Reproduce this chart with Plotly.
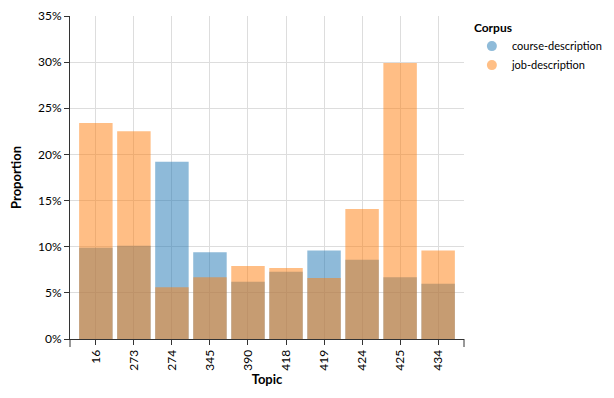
import plotly.graph_objects as go

topics = ["16", "273", "274", "345", "390", "418", "419", "424", "425", "434"]
course_description = [0.099, 0.101, 0.192, 0.094, 0.062, 0.073, 0.096, 0.086, 0.067, 0.060]
job_description = [0.234, 0.225, 0.056, 0.067, 0.079, 0.077, 0.066, 0.141, 0.299, 0.096]

BLUE = "#1f77b4"
ORANGE = "#ff7f0e"
FONT = "Lato"
AX = "#333"

fig = go.Figure()
fig.add_trace(go.Bar(x=topics, y=course_description, name="course-description",
                     marker=dict(color=BLUE, line=dict(width=0)), opacity=0.5, showlegend=False))
fig.add_trace(go.Bar(x=topics, y=job_description, name="job-description",
                     marker=dict(color=ORANGE, line=dict(width=0)), opacity=0.5, showlegend=False))
# legend entries with circle symbols
fig.add_trace(go.Scatter(x=[None], y=[None], mode="markers", name="course-description",
                         marker=dict(color=BLUE, opacity=0.5, size=10, symbol="circle")))
fig.add_trace(go.Scatter(x=[None], y=[None], mode="markers", name="job-description",
                         marker=dict(color=ORANGE, opacity=0.5, size=10, symbol="circle")))

# small end ticks of the x-axis domain
for xp in (0, 1):
    fig.add_shape(type="line", xref="paper", yref="paper", x0=xp, x1=xp, y0=0, y1=-8 / 323,
                  line=dict(color=AX, width=1))

# the page body has an 8px default margin, so the figure is sized to fit the window
fig.update_layout(
    width=606, height=390,
    margin=dict(l=62, r=150, t=8, b=59, autoexpand=False),
    barmode="overlay", bargap=0.12,
    plot_bgcolor="white", paper_bgcolor="white",
    font=dict(family=FONT, size=12, color="#000"),
    legend=dict(x=1.02, y=1.0, xanchor="left", yanchor="top",
                title=dict(text="<b>Corpus</b>", font=dict(size=12, family=FONT)),
                font=dict(size=11, family=FONT), itemwidth=30, tracegroupgap=0,
                bgcolor="rgba(0,0,0,0)"),
    xaxis=dict(type="category", range=[-0.68, 9.68],
               title=dict(text="<b>Topic</b>", font=dict(size=13), standoff=4),
               tickangle=-90, ticks="outside", ticklen=5, tickcolor=AX,
               showline=True, linecolor=AX, linewidth=1,
               showgrid=True, gridcolor="#ddd", gridwidth=1, zeroline=False),
    yaxis=dict(range=[0, 0.35], dtick=0.05, tickformat=".0%",
               title=dict(text="<b>Proportion</b>", font=dict(size=13), standoff=14),
               ticks="outside", ticklen=5, tickcolor=AX,
               showline=True, linecolor=AX, linewidth=1,
               showgrid=True, gridcolor="#ddd", gridwidth=1, zeroline=False),
)

fig.write_html("out.html")
